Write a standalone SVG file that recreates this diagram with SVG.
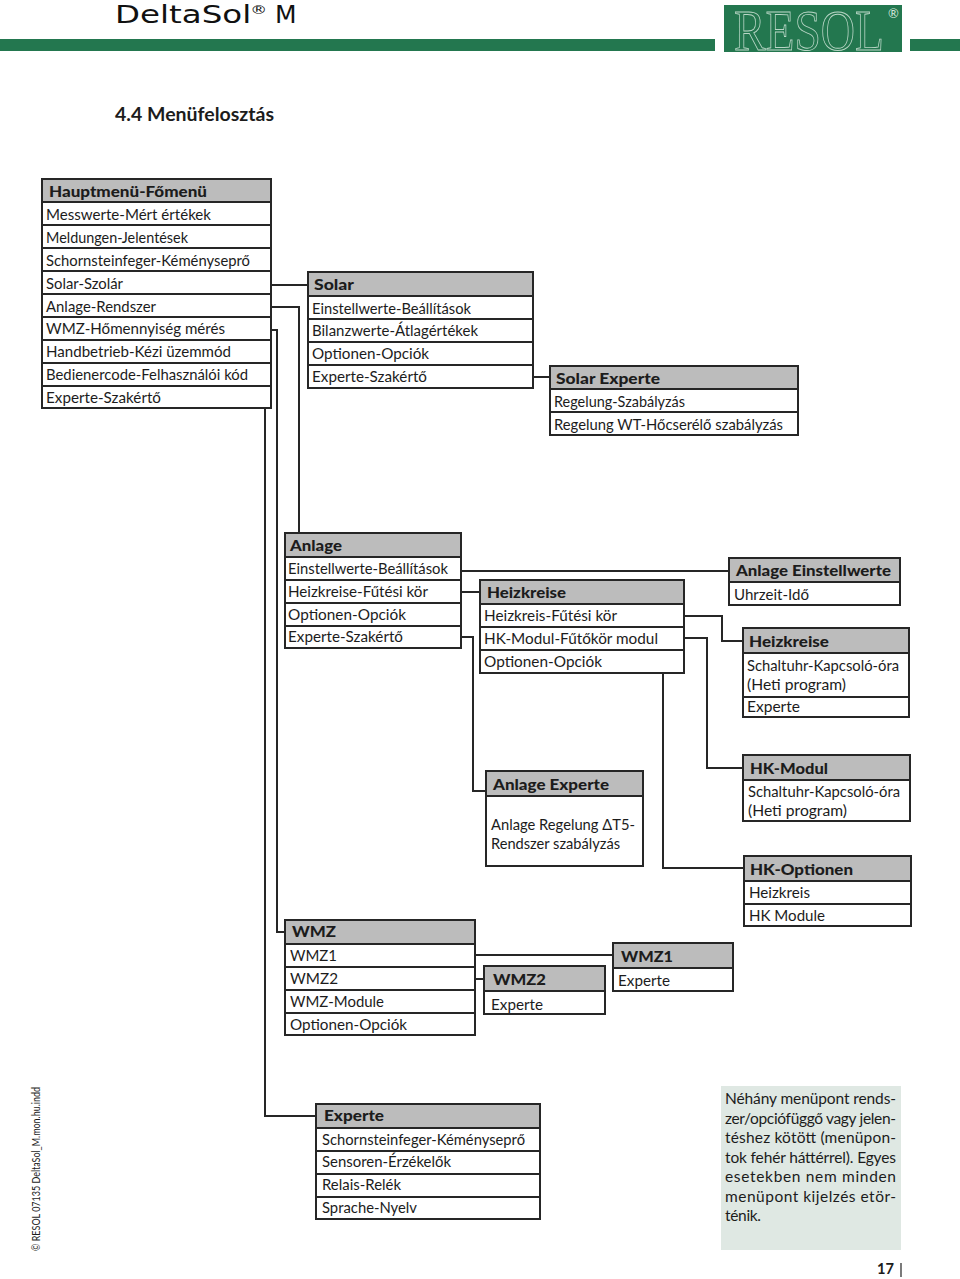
<svg xmlns="http://www.w3.org/2000/svg" width="960" height="1279" viewBox="0 0 960 1279">
<style>
text{font-family:"Lato","Open Sans","Liberation Sans",sans-serif;fill:#1c1c1c}
.h{font-size:15px;font-weight:900}
.t{font-size:16px}
.n{font-size:15.5px}
.b{fill:#fff;stroke:#262626;stroke-width:2}
.g{fill:#bcbcbc;stroke:#262626;stroke-width:2}
.d{stroke:#262626;stroke-width:2;fill:none}
.c{stroke:#262626;stroke-width:2;fill:none}
</style>
<rect width="960" height="1279" fill="#fff"/>
<g id="header">
<rect x="0" y="39" width="715" height="12" fill="#23774f"/>
<rect x="910" y="39" width="50" height="12" fill="#23774f"/>
<rect x="724" y="5" width="178" height="47" fill="#23774f"/>
<text transform="translate(734 50) scale(1 1.26)" font-size="46" textLength="150" lengthAdjust="spacingAndGlyphs" style="fill:none;stroke:#b9d6c6;stroke-width:.7;font-family:'Liberation Serif',serif">RESOL</text>
<text x="888" y="18" font-size="13" style="fill:#cfe3d8">®</text>
<text transform="translate(115 23) scale(1.3 1)" font-size="25" style="font-family:'DejaVu Sans',sans-serif;fill:#111">DeltaSol<tspan x="104" dy="-9" font-size="13">®</tspan></text>
<text x="275" y="23" font-size="25" style="font-family:'DejaVu Sans',sans-serif;fill:#111">M</text>
<text x="115" y="121" font-size="19" font-weight="700" textLength="159" lengthAdjust="spacingAndGlyphs">4.4 Menüfelosztás</text>
</g>
<g id="connectors">
<path class="c" d="M271 285H308"/>
<path class="c" d="M271 307H299V545H285"/>
<path class="c" d="M271 330H277V932H285"/>
<path class="c" d="M265 408V1116H316"/>
<path class="c" d="M533 377H550"/>
<path class="c" d="M461 571H729"/>
<path class="c" d="M461 592H480"/>
<path class="c" d="M461 637H473V791H486"/>
<path class="c" d="M684 616H722V641H743"/>
<path class="c" d="M684 638H707V768H743"/>
<path class="c" d="M663 673V868H744"/>
<path class="c" d="M475 955H613"/>
<path class="c" d="M475 979H484"/>
</g>
<g id="node-hauptmenu">
<rect class="b" x="42" y="179" width="229" height="229"/><rect class="g" x="42" y="179" width="229" height="23"/>
<path class="d" d="M42 225H271M42 248H271M42 271H271M42 294H271M42 317H271M42 340H271M42 363H271M42 386H271"/>
<text class="h" x="49" y="197" textLength="158" lengthAdjust="spacingAndGlyphs">Hauptmenü-Főmenü</text>
<text class="t" x="46" y="220" textLength="165" lengthAdjust="spacingAndGlyphs">Messwerte-Mért értékek</text>
<text class="t" x="46" y="243" textLength="142" lengthAdjust="spacingAndGlyphs">Meldungen-Jelentések</text>
<text class="t" x="46" y="266" textLength="204" lengthAdjust="spacingAndGlyphs">Schornsteinfeger-Kéményseprő</text>
<text class="t" x="46" y="289" textLength="77" lengthAdjust="spacingAndGlyphs">Solar-Szolár</text>
<text class="t" x="46" y="312" textLength="110" lengthAdjust="spacingAndGlyphs">Anlage-Rendszer</text>
<text class="t" x="46" y="334" textLength="179" lengthAdjust="spacingAndGlyphs">WMZ-Hőmennyiség mérés</text>
<text class="t" x="46" y="357" textLength="185" lengthAdjust="spacingAndGlyphs">Handbetrieb-Kézi üzemmód</text>
<text class="t" x="46" y="380" textLength="202" lengthAdjust="spacingAndGlyphs">Bedienercode-Felhasználói kód</text>
<text class="t" x="46" y="403" textLength="115" lengthAdjust="spacingAndGlyphs">Experte-Szakértő</text>
</g>
<g id="node-solar">
<rect class="b" x="308" y="272" width="225" height="116"/><rect class="g" x="308" y="272" width="225" height="24"/>
<path class="d" d="M308 319H533M308 342H533M308 365H533"/>
<text class="h" x="314" y="290" textLength="40" lengthAdjust="spacingAndGlyphs">Solar</text>
<text class="t" x="312" y="314" textLength="159" lengthAdjust="spacingAndGlyphs">Einstellwerte-Beállítások</text>
<text class="t" x="312" y="336" textLength="166" lengthAdjust="spacingAndGlyphs">Bilanzwerte-Átlagértékek</text>
<text class="t" x="312" y="359" textLength="117" lengthAdjust="spacingAndGlyphs">Optionen-Opciók</text>
<text class="t" x="312" y="382" textLength="115" lengthAdjust="spacingAndGlyphs">Experte-Szakértő</text>
</g>
<g id="node-solar-experte">
<rect class="b" x="550" y="366" width="248" height="69"/><rect class="g" x="550" y="366" width="248" height="23"/>
<path class="d" d="M550 412H798"/>
<text class="h" x="556" y="384" textLength="104" lengthAdjust="spacingAndGlyphs">Solar Experte</text>
<text class="t" x="554" y="407" textLength="131" lengthAdjust="spacingAndGlyphs">Regelung-Szabályzás</text>
<text class="t" x="554" y="430" textLength="229" lengthAdjust="spacingAndGlyphs">Regelung WT-Hőcserélő szabályzás</text>
</g>
<g id="node-anlage">
<rect class="b" x="285" y="533" width="176" height="115"/><rect class="g" x="285" y="533" width="176" height="24"/>
<path class="d" d="M285 580H461M285 603H461M285 626H461"/>
<text class="h" x="290" y="551" textLength="52" lengthAdjust="spacingAndGlyphs">Anlage</text>
<text class="t" x="288" y="574" textLength="160" lengthAdjust="spacingAndGlyphs">Einstellwerte-Beállítások</text>
<text class="t" x="288" y="597" textLength="140" lengthAdjust="spacingAndGlyphs">Heizkreise-Fűtési kör</text>
<text class="t" x="288" y="620" textLength="118" lengthAdjust="spacingAndGlyphs">Optionen-Opciók</text>
<text class="t" x="288" y="642" textLength="115" lengthAdjust="spacingAndGlyphs">Experte-Szakértő</text>
</g>
<g id="node-heizkreise">
<rect class="b" x="480" y="580" width="204" height="93"/><rect class="g" x="480" y="580" width="204" height="24"/>
<path class="d" d="M480 627H684M480 650H684"/>
<text class="h" x="487" y="598" textLength="79" lengthAdjust="spacingAndGlyphs">Heizkreise</text>
<text class="t" x="484" y="621" textLength="133" lengthAdjust="spacingAndGlyphs">Heizkreis-Fűtési kör</text>
<text class="t" x="484" y="644" textLength="174" lengthAdjust="spacingAndGlyphs">HK-Modul-Fűtőkör modul</text>
<text class="t" x="484" y="667" textLength="118" lengthAdjust="spacingAndGlyphs">Optionen-Opciók</text>
</g>
<g id="node-anlage-einstellwerte">
<rect class="b" x="729" y="558" width="171" height="47"/><rect class="g" x="729" y="558" width="171" height="24"/>
<text class="h" x="736" y="576" textLength="155" lengthAdjust="spacingAndGlyphs">Anlage Einstellwerte</text>
<text class="t" x="734" y="600" textLength="75" lengthAdjust="spacingAndGlyphs">Uhrzeit-Idő</text>
</g>
<g id="node-heizkreise-sub">
<rect class="b" x="743" y="628" width="166" height="89"/><rect class="g" x="743" y="628" width="166" height="25"/>
<path class="d" d="M743 697H909"/>
<text class="h" x="749" y="647" textLength="80" lengthAdjust="spacingAndGlyphs">Heizkreise</text>
<text class="t" x="747" y="671" textLength="152" lengthAdjust="spacingAndGlyphs">Schaltuhr-Kapcsoló-óra</text>
<text class="t" x="747" y="690" textLength="99" lengthAdjust="spacingAndGlyphs">(Heti program)</text>
<text class="t" x="747" y="712" textLength="53" lengthAdjust="spacingAndGlyphs">Experte</text>
</g>
<g id="node-hk-modul">
<rect class="b" x="743" y="755" width="167" height="66"/><rect class="g" x="743" y="755" width="167" height="25"/>
<text class="h" x="750" y="774" textLength="78" lengthAdjust="spacingAndGlyphs">HK-Modul</text>
<text class="t" x="748" y="797" textLength="152" lengthAdjust="spacingAndGlyphs">Schaltuhr-Kapcsoló-óra</text>
<text class="t" x="748" y="816" textLength="99" lengthAdjust="spacingAndGlyphs">(Heti program)</text>
</g>
<g id="node-hk-optionen">
<rect class="b" x="744" y="856" width="167" height="70"/><rect class="g" x="744" y="856" width="167" height="25"/>
<path class="d" d="M744 904H911"/>
<text class="h" x="750" y="875" textLength="103" lengthAdjust="spacingAndGlyphs">HK-Optionen</text>
<text class="t" x="749" y="898" textLength="61" lengthAdjust="spacingAndGlyphs">Heizkreis</text>
<text class="t" x="749" y="921" textLength="76" lengthAdjust="spacingAndGlyphs">HK Module</text>
</g>
<g id="node-anlage-experte">
<rect class="b" x="486" y="771" width="157" height="95"/><rect class="g" x="486" y="771" width="157" height="25"/>
<text class="h" x="493" y="790" textLength="116" lengthAdjust="spacingAndGlyphs">Anlage Experte</text>
<text class="t" x="491" y="830" textLength="144" lengthAdjust="spacingAndGlyphs">Anlage Regelung ΔT5-</text>
<text class="t" x="491" y="849" textLength="129" lengthAdjust="spacingAndGlyphs">Rendszer szabályzás</text>
</g>
<g id="node-wmz">
<rect class="b" x="285" y="920" width="190" height="115"/><rect class="g" x="285" y="920" width="190" height="24"/>
<path class="d" d="M285 967H475M285 990H475M285 1013H475"/>
<text class="h" x="292" y="937" textLength="44" lengthAdjust="spacingAndGlyphs">WMZ</text>
<text class="t" x="290" y="961" textLength="47" lengthAdjust="spacingAndGlyphs">WMZ1</text>
<text class="t" x="290" y="984" textLength="48" lengthAdjust="spacingAndGlyphs">WMZ2</text>
<text class="t" x="290" y="1007" textLength="94" lengthAdjust="spacingAndGlyphs">WMZ-Module</text>
<text class="t" x="290" y="1030" textLength="117" lengthAdjust="spacingAndGlyphs">Optionen-Opciók</text>
</g>
<g id="node-wmz2">
<rect class="b" x="484" y="966" width="121" height="48"/><rect class="g" x="484" y="966" width="121" height="25"/>
<text class="h" x="493" y="985" textLength="53" lengthAdjust="spacingAndGlyphs">WMZ2</text>
<text class="t" x="491" y="1010" textLength="52" lengthAdjust="spacingAndGlyphs">Experte</text>
</g>
<g id="node-wmz1">
<rect class="b" x="613" y="943" width="120" height="48"/><rect class="g" x="613" y="943" width="120" height="25"/>
<text class="h" x="621" y="962" textLength="52" lengthAdjust="spacingAndGlyphs">WMZ1</text>
<text class="t" x="618" y="986" textLength="52" lengthAdjust="spacingAndGlyphs">Experte</text>
</g>
<g id="node-experte">
<rect class="b" x="316" y="1104" width="224" height="115"/><rect class="g" x="316" y="1104" width="224" height="24"/>
<path class="d" d="M316 1151H540M316 1174H540M316 1197H540"/>
<text class="h" x="324" y="1121" textLength="60" lengthAdjust="spacingAndGlyphs">Experte</text>
<text class="t" x="322" y="1145" textLength="203" lengthAdjust="spacingAndGlyphs">Schornsteinfeger-Kéményseprő</text>
<text class="t" x="322" y="1167" textLength="129" lengthAdjust="spacingAndGlyphs">Sensoren-Érzékelők</text>
<text class="t" x="322" y="1190" textLength="79" lengthAdjust="spacingAndGlyphs">Relais-Relék</text>
<text class="t" x="322" y="1213" textLength="95" lengthAdjust="spacingAndGlyphs">Sprache-Nyelv</text>
</g>
<g id="note">
<rect x="721" y="1086" width="180" height="164" fill="#dfe8e3"/>
<text class="n" x="725" y="1104" textLength="171" lengthAdjust="spacing">Néhány menüpont rends-</text>
<text class="n" x="725" y="1124" textLength="171" lengthAdjust="spacing">zer/opciófüggő vagy jelen-</text>
<text class="n" x="725" y="1143" textLength="171" lengthAdjust="spacing">téshez kötött (menüpon-</text>
<text class="n" x="725" y="1163" textLength="171" lengthAdjust="spacing">tok fehér háttérrel). Egyes</text>
<text class="n" x="725" y="1182" textLength="171" lengthAdjust="spacing">esetekben nem minden</text>
<text class="n" x="725" y="1202" textLength="171" lengthAdjust="spacing">menüpont kijelzés etör-</text>
<text class="n" x="725" y="1221" textLength="36" lengthAdjust="spacing">ténik.</text>
</g>
<g id="footer">
<text x="0" y="0" font-size="10.5" transform="translate(40 1251) rotate(-90)" textLength="164" lengthAdjust="spacingAndGlyphs">© RESOL 07135 DeltaSol_M.mon.hu.indd</text>
<text x="877" y="1274" font-size="16" font-weight="700" textLength="17" lengthAdjust="spacingAndGlyphs">17</text>
<path d="M901 1263V1277" stroke="#222" stroke-width="1.2"/>
</g>
</svg>
